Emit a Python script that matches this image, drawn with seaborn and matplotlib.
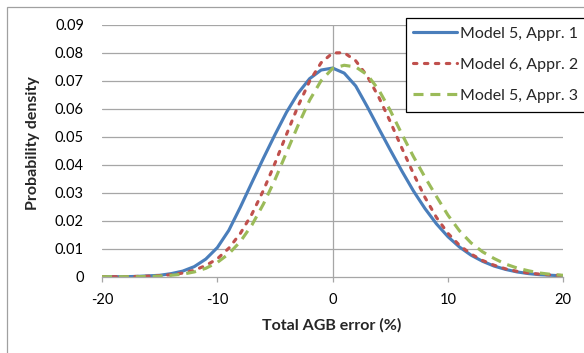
import numpy as np
import pandas as pd
import matplotlib
matplotlib.use("Agg")
import matplotlib.pyplot as plt
from matplotlib.patches import Rectangle
import seaborn as sns

# ---------------------------------------------------------------------------
# Data
# ---------------------------------------------------------------------------

AGB_ERROR = list(range(-20, 21))

MODEL5_APPR1 = [
    0.0000, 0.0000, 0.0000, 0.0001, 0.0003, 0.0005, 0.0011, 0.0020, 0.0036, 0.0063,
    0.0104, 0.0166, 0.0249, 0.0337, 0.0424, 0.0508, 0.0588, 0.0656, 0.0708, 0.0739,
    0.0746, 0.0728, 0.0682, 0.0608, 0.0530, 0.0453, 0.0378, 0.0307, 0.0244, 0.0189,
    0.0143, 0.0106, 0.0077, 0.0055, 0.0038, 0.0026, 0.0017, 0.0011, 0.0007, 0.0005,
    0.0003,
]

MODEL6_APPR2 = [
    0.0000, 0.0000, 0.0000, 0.0001, 0.0002, 0.0004, 0.0007, 0.0013, 0.0023, 0.0040,
    0.0064, 0.0102, 0.0155, 0.0224, 0.0309, 0.0406, 0.0509, 0.0610, 0.0699, 0.0765,
    0.0800, 0.0801, 0.0772, 0.0717, 0.0642, 0.0554, 0.0460, 0.0369, 0.0284, 0.0212,
    0.0155, 0.0112, 0.0081, 0.0058, 0.0041, 0.0028, 0.0019, 0.0013, 0.0009, 0.0006,
    0.0004,
]

MODEL5_APPR3 = [
    0.0000, 0.0000, 0.0000, 0.0000, 0.0001, 0.0002, 0.0005, 0.0009, 0.0017, 0.0030,
    0.0051, 0.0082, 0.0126, 0.0185, 0.0260, 0.0347, 0.0444, 0.0541, 0.0631, 0.0701,
    0.0745, 0.0756, 0.0750, 0.0722, 0.0668, 0.0594, 0.0510, 0.0430, 0.0356, 0.0287,
    0.0220, 0.0164, 0.0121, 0.0089, 0.0065, 0.0045, 0.0031, 0.0021, 0.0013, 0.0008,
    0.0005,
]

LABELS = ["Model 5, Appr. 1", "Model 6, Appr. 2", "Model 5, Appr. 3"]
COLORS = ["#4a7ebb", "#c0504d", "#9bbb59"]

X_TICKS = [-20, -10, 0, 10, 20]
Y_TICKS = [0, 0.01, 0.02, 0.03, 0.04, 0.05, 0.06, 0.07, 0.08, 0.09]
Y_TICK_LABELS = ["0", "0.01", "0.02", "0.03", "0.04", "0.05", "0.06", "0.07", "0.08", "0.09"]

# ---------------------------------------------------------------------------
# Figure
# ---------------------------------------------------------------------------

sns.set_style("white")
plt.rcParams["font.family"] = ["Lato", "DejaVu Sans"]

W, H = 584, 353
fig = plt.figure(figsize=(W / 100, H / 100), dpi=100)
ax = fig.add_axes([102 / W, (H - 276.7) / H, (563.3 - 102) / W, (276.7 - 25) / H])

GRID = "#a6a6a6"
for y in Y_TICKS[1:]:
    ax.axhline(y, color=GRID, lw=0.9, zorder=0)
ax.axvline(0, color=GRID, lw=0.9, zorder=0)

df = pd.DataFrame({
    "x": AGB_ERROR,
    LABELS[0]: MODEL5_APPR1,
    LABELS[1]: MODEL6_APPR2,
    LABELS[2]: MODEL5_APPR3,
})

sns.lineplot(data=df, x="x", y=LABELS[0], ax=ax, color=COLORS[0], lw=2.25,
             solid_capstyle="round", solid_joinstyle="round", label=LABELS[0])
sns.lineplot(data=df, x="x", y=LABELS[1], ax=ax, color=COLORS[1], lw=2.25,
             dashes=(1.1, 2.4), dash_capstyle="round", label=LABELS[1])
sns.lineplot(data=df, x="x", y=LABELS[2], ax=ax, color=COLORS[2], lw=2.25,
             dashes=(3.2, 2.2), dash_capstyle="butt", label=LABELS[2])

ax.set_xlim(-20, 20)
ax.set_ylim(0, 0.09)
ax.set_xticks(X_TICKS)
ax.set_xticklabels([str(t) for t in X_TICKS])
ax.set_yticks(Y_TICKS)
ax.set_yticklabels(Y_TICK_LABELS)
ax.set_xlabel("")
ax.set_ylabel("")

for side in ["top", "right", "left"]:
    ax.spines[side].set_visible(False)
ax.spines["bottom"].set_color(GRID)
ax.spines["bottom"].set_linewidth(0.9)

ax.tick_params(axis="x", length=3.5, width=0.9, color=GRID, direction="out",
               pad=8, labelsize=10.5, labelcolor="#000000", bottom=True)
ax.tick_params(axis="y", length=0, pad=13, labelsize=10.5, labelcolor="#000000")

handles, labels = ax.get_legend_handles_labels()
if ax.get_legend() is not None:
    ax.get_legend().remove()

# axis titles
fig.text(332 / W, 1 - 325 / H, "Total AGB error (%)", ha="center", va="center",
         fontsize=11.5, fontweight="bold")
fig.text(33 / W, 1 - 143 / H, "Probability density", ha="center", va="center",
         rotation=90, fontsize=11.5, fontweight="bold")

# chart-area border (only top / left visible in the crop)
fig.patches.append(Rectangle((7 / W, -0.2), 1.2, 1.2 - 7 / H, transform=fig.transFigure,
                             facecolor="none", edgecolor="#a0a0a0", lw=0.9, zorder=1))

# legend box
fig.patches.append(Rectangle((405.7 / W, 1 - 111.7 / H), 1.0, (111.7 - 18.3) / H,
                             transform=fig.transFigure, facecolor="white",
                             edgecolor="black", lw=0.9, zorder=4))
leg = fig.legend(handles, labels, loc="upper left",
                 bbox_to_anchor=(407 / W, 1 - 21 / H), bbox_transform=fig.transFigure,
                 frameon=False, fontsize=11.5, handlelength=2.75, handletextpad=0.2,
                 labelspacing=1.05, borderpad=0.35, borderaxespad=0)
leg.set_zorder(5)

fig.savefig("out.png", dpi=100)
